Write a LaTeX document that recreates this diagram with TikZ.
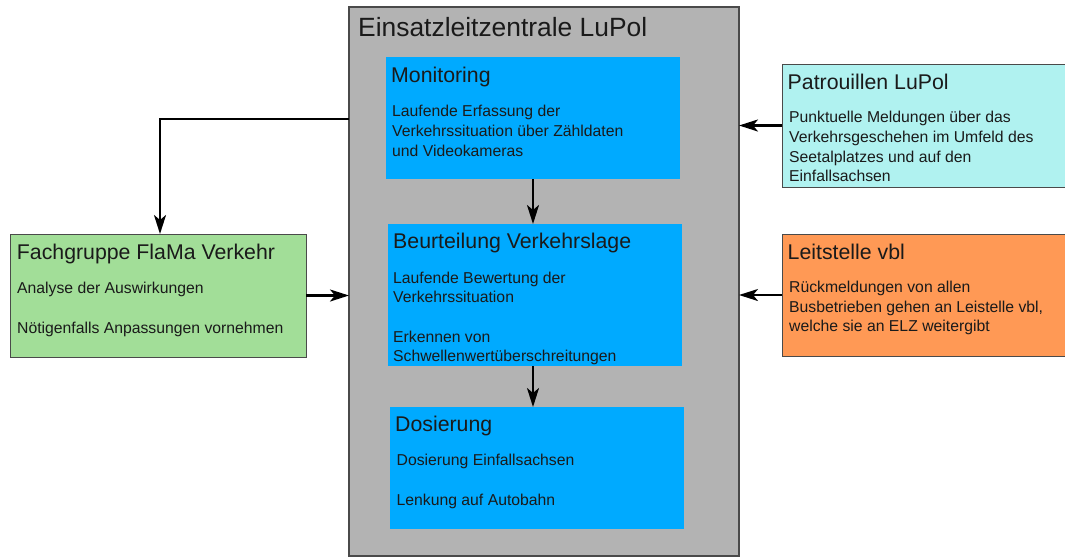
\documentclass[tikz,border=0pt]{standalone}
\usepackage{fontspec}
\setmainfont{Liberation Sans}
\usetikzlibrary{arrows.meta}
\definecolor{elzgray}{HTML}{B3B3B3}
\definecolor{elzblue}{HTML}{00AAFF}
\definecolor{patcyan}{HTML}{B0F2F0}
\definecolor{leiorange}{HTML}{FF9955}
\definecolor{fachgreen}{HTML}{A2DE98}
\definecolor{boxline}{HTML}{4A4A4A}
\definecolor{txt}{HTML}{1A1A1A}
\begin{document}
\begin{tikzpicture}[x=1pt,y=-1pt,
  box/.style={draw=boxline,line width=1pt,inner sep=0pt,outer sep=0pt},
  bluebox/.style={fill=elzblue,draw=none,inner sep=0pt,outer sep=0pt},
  bigtitle/.style={anchor=base west,inner sep=0pt,text=txt,font=\fontsize{26.4}{30}\selectfont},
  boxtitle/.style={anchor=base west,inner sep=0pt,text=txt,font=\fontsize{21.3}{25}\selectfont},
  bodytxt/.style={anchor=base west,inner sep=0pt,text=txt,align=left,font=\fontsize{15.75}{19.6}\selectfont},
  arr/.style={draw=black,line width=2.4pt,-{Stealth[length=19pt,width=12pt,inset=5pt]}}
]
\clip (0,0) rectangle (1065,558);
\fill[white] (0,0) rectangle (1065,558);

% main box
\node[box,fill=elzgray,line width=1.5pt,minimum width=390pt,minimum height=549pt] (main) at (544,281.5) {};
\node[bigtitle] (mainT) at (358,36) {Einsatzleitzentrale LuPol};

% Monitoring (base anchor = last line)
\node[bluebox,minimum width=294pt,minimum height=122pt] (mon) at (533,118) {};
\node[boxtitle] (monT) at (391,82.5) {Monitoring};
\node[bodytxt] (monB) at (392,156) {Laufende Erfassung der\\Verkehrssituation über Zähldaten\\und Videokameras};

% Beurteilung
\node[bluebox,minimum width=294pt,minimum height=142pt] (beu) at (535,295) {};
\node[boxtitle] (beuT) at (393,248.3) {Beurteilung Verkehrslage};
\node[bodytxt] (beuB) at (393,361.7) {Laufende Bewertung der\\Verkehrssituation\\[19.6pt]Erkennen von\\Schwellenwertüberschreitungen};

% Dosierung
\node[bluebox,minimum width=294pt,minimum height=122pt] (dos) at (537,468) {};
\node[boxtitle] (dosT) at (395,431.7) {Dosierung};
\node[bodytxt] (dosB) at (396.5,505) {Dosierung Einfallsachsen\\[20pt]Lenkung auf Autobahn};

% Patrouillen
\node[box,fill=patcyan,minimum width=288pt,minimum height=123pt] (pat) at (926,125.5) {};
\node[boxtitle] (patT) at (787.5,89.3) {Patrouillen LuPol};
\node[bodytxt] (patB) at (789,181.7) {Punktuelle Meldungen über das\\Verkehrsgeschehen im Umfeld des\\Seetalplatzes und auf den\\Einfallsachsen};

% Leitstelle
\node[box,fill=leiorange,minimum width=288pt,minimum height=122pt] (lei) at (926,295) {};
\node[boxtitle] (leiT) at (787.5,259.3) {Leitstelle vbl};
\node[bodytxt] (leiB) at (789,331.7) {Rückmeldungen von allen\\Busbetrieben gehen an Leistelle vbl,\\welche sie an ELZ weitergibt};

% Fachgruppe
\node[box,fill=fachgreen,minimum width=296pt,minimum height=123pt] (fach) at (158,295.5) {};
\node[boxtitle] (fachT) at (16.7,259.3) {Fachgruppe FlaMa Verkehr};
\node[bodytxt] (fachB) at (17,333.3) {Analyse der Auswirkungen\\[20pt]Nötigenfalls Anpassungen vornehmen};

% connectors
\draw[arr] (mon.south) -- (mon.south |- beu.north);
\draw[arr] (beu.south -| mon.south) -- (mon.south |- dos.north);
\draw[arr] (pat.west) -- (pat.west -| main.east);
\draw[arr] (lei.west) -- (lei.west -| main.east);
\draw[arr] (fach.east) -- (fach.east -| main.west);
\coordinate (bend) at (160,119);
\draw[arr] (main.west |- bend) -- (bend) -- (bend |- fach.north);
\end{tikzpicture}
\end{document}
